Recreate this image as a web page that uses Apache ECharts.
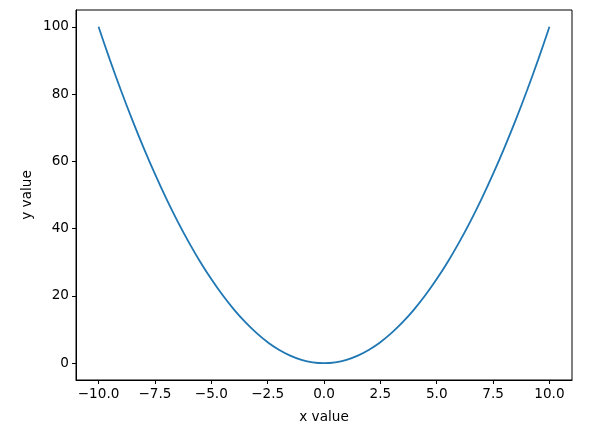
<!DOCTYPE html>
<html><head><meta charset="utf-8">
<script src="https://cdn.jsdelivr.net/npm/echarts@6/dist/echarts.min.js"></script>
<style>html,body{margin:0;padding:0;background:#fff}#c{width:591px;height:434px}</style>
</head><body><div id="c"></div>
<script>
const xValues = [-10,-9.5,-9,-8.5,-8,-7.5,-7,-6.5,-6,-5.5,-5,-4.5,-4,-3.5,-3,-2.5,-2,-1.5,-1,-0.5,0,0.5,1,1.5,2,2.5,3,3.5,4,4.5,5,5.5,6,6.5,7,7.5,8,8.5,9,9.5,10];
const yValues = [100,90.25,81,72.25,64,56.25,49,42.25,36,30.25,25,20.25,16,12.25,9,6.25,4,2.25,1,0.25,0,0.25,1,2.25,4,6.25,9,12.25,16,20.25,25,30.25,36,42.25,49,56.25,64,72.25,81,90.25,100];
const xTicks = [-10,-7.5,-5,-2.5,0,2.5,5,7.5,10];
const yTicks = [0,20,40,60,80,100];
const xLabel = 'x value', yLabel = 'y value';

const font = 'DejaVu Sans';
const fs = 13.6;
const chart = echarts.init(document.getElementById('c'), null, {renderer:'canvas'});
const axCommon = {
  axisLine:{show:true,onZero:false,lineStyle:{color:'#000',width:1}},
  axisTick:{show:true,length:4,inside:false,lineStyle:{color:'#000',width:1}},
  splitLine:{show:false},
  nameMoveOverlap:false,
  nameTextStyle:{fontFamily:font,fontSize:fs,color:'#000'}
};
chart.setOption({
  animation:false,
  grid:{left:76,right:19,top:10,bottom:54,show:true,borderColor:'#000',borderWidth:1,backgroundColor:'#fff'},
  xAxis:Object.assign({},axCommon,{
    type:'value',min:-11,max:11,
    name:xLabel,nameLocation:'middle',nameGap:30,
    axisTick:Object.assign({},axCommon.axisTick,{customValues:xTicks}),
    axisLabel:{customValues:xTicks,fontFamily:font,fontSize:fs,color:'#000',margin:7,
      formatter:v=>v.toFixed(1).replace('-','\u2212')}
  }),
  yAxis:Object.assign({},axCommon,{
    type:'value',min:-5,max:105,
    name:yLabel,nameLocation:'middle',nameGap:42,nameRotate:90,
    axisTick:Object.assign({},axCommon.axisTick,{customValues:yTicks}),
    axisLabel:{customValues:yTicks,fontFamily:font,fontSize:fs,color:'#000',margin:7,
      formatter:v=>String(v).replace('-','\u2212')}
  }),
  series:[{type:'line',data:xValues.map((x,i)=>[x,yValues[i]]),showSymbol:false,smooth:0.3,
    lineStyle:{color:'#1f77b4',width:1.8},itemStyle:{color:'#1f77b4'}}]
});
</script></body></html>
